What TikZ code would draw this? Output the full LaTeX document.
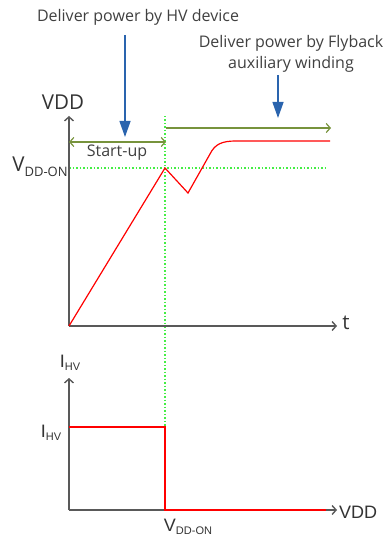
\documentclass[tikz,border=0pt]{standalone}
\usepackage{fontspec}
\setmainfont{Open Sans}
\newfontfamily\arialf{Liberation Sans}
\usetikzlibrary{arrows.meta}
\definecolor{axisgray}{HTML}{595959}
\definecolor{olivegr}{HTML}{77933C}
\definecolor{dotgr}{HTML}{44EE44}
\definecolor{bluear}{HTML}{2A64AE}
\begin{document}
\begin{tikzpicture}[x=1pt,y=-1pt,
  axis/.style={draw=axisgray, line width=1.4pt, -{Straight Barb[length=4pt,width=9pt]}},
  span/.style={draw=olivegr, line width=1.2pt},
  guide/.style={draw=dotgr, line width=1.1pt, dash pattern=on 1.5pt off 2pt},
  sig/.style={draw=red, line width=1.2pt},
  blue arrow/.style={draw=bluear, line width=1.3pt, -{Triangle[length=16pt,width=11pt]}},
  note/.style={inner sep=0pt, text=black!75, font=\fontsize{16}{19}\selectfont},
  biglab/.style={inner sep=0pt, text=black!80, font=\fontsize{20.5}{23}\selectfont},
  alab/.style={inner sep=0pt, text=black!80, font=\arialf\fontsize{18}{21}\selectfont}
]
\useasboundingbox (0,0) rectangle (388,537);
% top texts
\node[note] (t1) at (138,17) {Deliver power by HV device};
\node[note] (t2) at (291,43) {Deliver power by Flyback};
\node[note] (t3) at (291,64) {auxiliary winding};
\coordinate (b1s) at (125,35);
\coordinate (b1e) at (125,137);
\coordinate (b2s) at (278,75);
\coordinate (b2e) at (278,118);
\draw[blue arrow] (b1s) -- (b1e);
\draw[blue arrow] (b2s) -- (b2e);
% top graph
\coordinate (O1) at (69,326);
\coordinate (Y1) at (69,116);
\coordinate (X1) at (337,326);
\coordinate (S1) at (69,142);
\coordinate (S2) at (166,142);
\coordinate (F1) at (166,128);
\coordinate (F2) at (331,128);
\coordinate (G1) at (165,116);
\coordinate (G2) at (165,427);
\coordinate (H1) at (69,168);
\coordinate (H2) at (326,168);
\draw[guide] (G1) -- (G2);
\draw[guide] (H1) -- (H2);
\draw[axis] (O1) -- (Y1);
\draw[axis] (O1) -- (X1);
\draw[span, {Straight Barb[length=4pt,width=9pt]}-{Straight Barb[length=4pt,width=9pt]}] (S1) -- (S2);
\draw[span, -{Straight Barb[length=4pt,width=9pt]}] (F1) -- (F2);
\node[biglab] (vdd) at (63,102) {VDD};
\node[biglab] (tl) at (346,323) {t};
\node[note] (su) at (117,153) {Start-up};
\node[biglab] (von) at (40,167) {V\raisebox{-0.45ex}{\fontsize{13}{13}\selectfont DD-ON}};
\draw[sig] (O1) -- (165,168) -- (188,193) -- (210,154) .. controls (215,144) and (222,141) .. (236,141) -- (330,141);
% bottom graph
\coordinate (O2) at (69,510);
\coordinate (Y2) at (69,378);
\coordinate (X2) at (337,510);
\coordinate (R1) at (69,427);
\coordinate (R2) at (165,427);
\coordinate (R3) at (165,510);
\coordinate (R4) at (326,510);
\draw[axis] (O2) -- (Y2);
\draw[axis] (O2) -- (X2);
\draw[sig] (R1) -- (R2) -- (R3) -- (R4);
\node[alab] (ihv1) at (70,363) {I\raisebox{-0.3ex}{\fontsize{11}{11}\selectfont HV}};
\node[alab] (ihv2) at (51,433) {I\raisebox{-0.3ex}{\fontsize{11}{11}\selectfont HV}};
\node[alab] (vdd2) at (358,512) {VDD};
\node[alab] (von2) at (188,527) {V\raisebox{-0.3ex}{\fontsize{11}{11}\selectfont DD-ON}};
\end{tikzpicture}
\end{document}
